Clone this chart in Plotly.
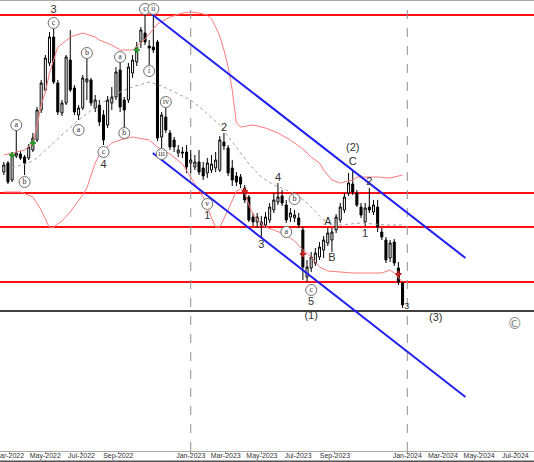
import pandas as pd
import plotly.graph_objects as go

# ---------------- data ----------------
start_week = "2022-02-20"

opens = [279, 288, 271, 295, 297, 294, 293, 301, 311, 341,
         361, 388, 414, 368, 338, 348, 391, 363, 336, 343,
         369, 371, 343, 346, 336, 326, 348, 354, 381, 351,
         351, 378, 389, 409, 418, 405, 404, 409, 314, 334,
         318, 311, 298, 299, 299, 288, 284, 289, 283, 278,
         281, 283, 281, 309, 303, 283, 275, 274, 263, 254,
         234, 229, 226, 226, 231, 241, 249, 255, 246, 234,
         233, 233, 221, 174, 183, 188, 194, 201, 208, 211,
         221, 231, 241, 258, 267, 258, 244, 229, 244, 239,
         244, 219, 211, 193, 209, 183, 168]
highs = [289, 290, 299, 321, 300, 296, 307, 318, 344, 371,
         396, 419, 424, 371, 351, 396, 421, 366, 346, 376,
         393, 373, 356, 351, 341, 355, 364, 384, 394, 354,
         388, 396, 409, 424, 438, 411, 438, 411, 339, 344,
         321, 314, 306, 304, 306, 301, 296, 301, 289, 293,
         296, 299, 315, 318, 306, 291, 279, 277, 266, 256,
         238, 238, 235, 239, 248, 258, 268, 261, 251, 243,
         241, 238, 224, 191, 199, 203, 209, 215, 223, 223,
         237, 248, 258, 278, 281, 261, 248, 248, 263, 251,
         251, 223, 214, 211, 212, 189, 170]
lows = [276, 267, 269, 293, 291, 276, 291, 299, 309, 338,
        359, 385, 367, 336, 335, 346, 359, 336, 331, 341,
        351, 345, 339, 325, 306, 323, 341, 351, 339, 323,
        348, 373, 385, 403, 406, 386, 398, 310, 301, 318,
        301, 299, 294, 293, 278, 278, 281, 276, 271, 273,
        278, 279, 279, 301, 275, 265, 265, 263, 248, 229,
        225, 223, 214, 223, 228, 238, 246, 245, 228, 229,
        229, 223, 171, 169, 179, 185, 191, 193, 205, 199,
        218, 228, 238, 255, 256, 244, 233, 225, 238, 236,
        219, 211, 188, 189, 185, 166, 143]
closes = [286, 269, 296, 298, 293, 288, 304, 313, 341, 368,
          393, 414, 369, 339, 348, 394, 361, 339, 343, 373,
          372, 348, 351, 329, 311, 351, 354, 379, 344, 341,
          384, 391, 404, 421, 409, 403, 401, 313, 336, 321,
          304, 304, 301, 298, 284, 291, 289, 279, 275, 288,
          287, 291, 311, 305, 278, 271, 269, 267, 251, 231,
          229, 234, 229, 234, 244, 251, 254, 248, 231, 238,
          236, 226, 184, 184, 194, 198, 204, 211, 218, 219,
          234, 244, 254, 268, 259, 246, 236, 243, 241, 246,
          224, 214, 191, 208, 188, 169, 146]

# Bollinger bands (week index, value)
upper_idx = [0, 2, 5, 7, 8, 9, 10, 11, 12, 13, 14, 16, 19, 22, 23, 26, 28, 31, 34, 37,
             40, 43, 45, 47, 49, 50, 51, 52, 53, 54, 55, 56, 57, 60, 63, 66, 69, 72, 74,
             76, 77, 79, 81, 84, 85, 90, 93, 96]
upper_val = [296, 298, 301, 308, 325, 346, 359, 378, 391, 404, 407, 414, 418, 414, 411, 406, 401, 401, 412, 427,
             434, 438, 439, 438, 436, 432, 424, 415, 401, 384, 361, 328, 324, 326, 323, 318, 311, 302, 294,
             288, 281, 271, 268, 271, 274, 274, 273, 276]
lower_idx = [0, 4, 7, 9, 11, 12, 14, 16, 19, 20, 22, 23, 26, 28, 31, 35, 37, 40, 43, 45,
             47, 48, 49, 50, 51, 52, 54, 55, 56, 57, 58, 59, 60, 61, 63, 65, 68, 70, 72,
             74, 76, 78, 81, 84, 91, 93, 94, 96]
lower_val = [259, 259, 254, 241, 223, 224, 230, 239, 256, 263, 288, 296, 308, 311, 314, 311, 304, 297, 287, 274,
             261, 254, 245, 233, 224, 224, 241, 251, 260, 262, 258, 246, 237, 232, 224, 221, 216, 210, 201,
             194, 184, 180, 179, 178, 178, 181, 178, 169]
mid_idx = [2, 6, 8, 11, 14, 18, 21, 23, 25, 28, 31, 35, 38, 40, 43, 45, 48, 52, 55, 57,
           59, 62, 65, 68, 71, 73, 76, 78, 81, 86, 92, 96]
mid_val = [283, 288, 293, 305, 316, 331, 341, 347, 351, 359, 364, 369, 365, 361, 355, 351, 341, 326, 309, 298,
           287, 274, 266, 261, 255, 248, 235, 228, 226, 228, 226, 226]

# band-cross markers
green_idx = [2, 7, 32]
green_val = [296, 308, 401]
red_idx = [58, 72, 95]
red_val = [260, 197, 177]

# horizontal levels
red_levels = [436, 258, 224, 169]
black_level = 140

# trend channel
chan_upper_x = ["2022-10-27", "2024-04-08"]
chan_upper_y = [437, 193]
chan_lower_x = ["2022-10-29", "2024-04-08"]
chan_lower_y = [298, 54]

# wave labels (plain)
wave_text = ["3", "4", "2", "1", "3", "4", "5", "(1)", "A", "B", "(2)", "C", "1", "2", "(3)"]
wave_idx = [12, 24, 53, 49, 62, 66, 74, 74, 78, 79, 84, 84, 87, 88, 104]
wave_val = [441, 286, 323, 235, 206, 273, 149, 135, 229, 193, 303, 289, 217, 269, 133]
small_text = ["3"]
small_idx = [97]
small_val = [144]

# circled sub-wave labels
circ_text = ["a", "b", "c", "a", "b", "c", "a", "b", "c", "ii", "i", "iii", "iv", "v", "a", "b", "c"]
circ_idx = [3, 5, 12, 18, 20, 24, 28, 29, 34, 36, 35, 38, 39, 49, 68, 70, 74]
circ_val = [326, 269, 428, 321, 398, 299, 394, 318, 442, 442, 380, 297, 349, 247, 219, 252, 161]

copyright_idx = [123]
copyright_val = [126]

tick_dates = ["2022-03-01", "2022-05-01", "2022-07-01", "2022-09-01", "2023-01-01",
              "2023-03-01", "2023-05-01", "2023-07-01", "2023-09-01", "2024-01-01",
              "2024-03-01", "2024-05-01", "2024-07-01"]
tick_text = ["Mar-2022", "May-2022", "Jul-2022", "Sep-2022", "Jan-2023",
             "Mar-2023", "May-2023", "Jul-2023", "Sep-2023", "Jan-2024",
             "Mar-2024", "May-2024", "Jul-2024"]
year_lines = ["2023-01-01", "2024-01-01"]

# ---------------- build ----------------
t0 = pd.Timestamp(start_week)


def wk(idx_list):
    return [t0 + pd.Timedelta(days=7 * i) for i in idx_list]


dates = wk(range(len(opens)))

fig = go.Figure()

fig.add_trace(go.Scatter(x=wk(upper_idx), y=upper_val, mode="lines",
                         line=dict(color="#ff7a7a", width=1), hoverinfo="skip"))
fig.add_trace(go.Scatter(x=wk(lower_idx), y=lower_val, mode="lines",
                         line=dict(color="#ff7a7a", width=1), hoverinfo="skip"))
fig.add_trace(go.Scatter(x=wk(mid_idx), y=mid_val, mode="lines",
                         line=dict(color="#a0a0a0", width=1, dash="dot"), hoverinfo="skip"))

fig.add_trace(go.Candlestick(
    x=dates, open=opens, high=highs, low=lows, close=closes,
    increasing=dict(line=dict(color="#000000", width=1), fillcolor="#ffffff"),
    decreasing=dict(line=dict(color="#000000", width=1), fillcolor="#000000"),
    whiskerwidth=0,
))

fig.add_trace(go.Scatter(x=wk(green_idx), y=green_val, mode="markers",
                         marker=dict(symbol="cross", size=5, color="#2e9a2e")))
fig.add_trace(go.Scatter(x=wk(red_idx), y=red_val, mode="markers",
                         marker=dict(symbol="cross", size=5, color="#cc2020")))

fig.add_trace(go.Scatter(x=chan_upper_x, y=chan_upper_y, mode="lines",
                         line=dict(color="#2020f0", width=2)))
fig.add_trace(go.Scatter(x=chan_lower_x, y=chan_lower_y, mode="lines",
                         line=dict(color="#2020f0", width=2)))

fig.add_trace(go.Scatter(x=wk(wave_idx), y=wave_val, mode="text", text=wave_text,
                         textposition="middle center",
                         textfont=dict(family="Liberation Sans, Arial, sans-serif", size=11, color="#333333")))
fig.add_trace(go.Scatter(x=wk(small_idx), y=small_val, mode="text", text=small_text,
                         textposition="middle center",
                         textfont=dict(family="Liberation Sans, Arial, sans-serif", size=9, color="#333333")))
fig.add_trace(go.Scatter(x=wk(circ_idx), y=circ_val, mode="markers+text", text=circ_text,
                         textposition="middle center",
                         marker=dict(symbol="circle", size=11, color="#ffffff",
                                     line=dict(color="#707070", width=1)),
                         textfont=dict(family="Liberation Serif, Times New Roman, serif", size=8, color="#333333")))
fig.add_trace(go.Scatter(x=wk(copyright_idx), y=copyright_val, mode="text", text=["©"],
                         textposition="middle center",
                         textfont=dict(family="DejaVu Sans, sans-serif", size=15, color="#8a8a8a")))

shapes = []
for lv in red_levels:
    shapes.append(dict(type="line", xref="paper", x0=0, x1=1, yref="y", y0=lv, y1=lv,
                       line=dict(color="#ff1010", width=2), layer="below"))
shapes.append(dict(type="line", xref="paper", x0=0, x1=1, yref="y", y0=black_level, y1=black_level,
                   line=dict(color="#000000", width=1.5), layer="below"))
for d in year_lines:
    shapes.append(dict(type="line", xref="x", x0=d, x1=d, yref="paper", y0=0, y1=1,
                       line=dict(color="#909090", width=1, dash="dash"), layer="below"))
shapes.append(dict(type="line", xref="paper", x0=0, x1=1, yref="paper", y0=-0.023, y1=-0.023,
                   line=dict(color="#555555", width=1.5)))

fig.update_layout(
    width=534, height=462,
    margin=dict(l=0, r=0, t=1, b=11, autoexpand=False),
    paper_bgcolor="#ffffff", plot_bgcolor="#ffffff",
    showlegend=False,
    shapes=shapes,
    xaxis=dict(type="date", range=["2022-02-13 14:00", "2024-08-01 12:00"],
               tickvals=tick_dates, ticktext=tick_text, tickangle=0, automargin=False,
               tickfont=dict(family="Liberation Sans Narrow, Arial Narrow, Liberation Sans, sans-serif",
                             size=7, color="#333333"),
               ticks="outside", ticklen=2, tickcolor="#888888", ticklabelstandoff=-4,
               ticklabeloverflow="allow",
               showgrid=False, zeroline=False, showline=True, linecolor="#aaaaaa",
               mirror=True, rangeslider=dict(visible=False)),
    yaxis=dict(range=[0, 450], showticklabels=False, showgrid=False, zeroline=False,
               showline=False, ticks="", automargin=False),
)

fig.write_html("out.html",
               config={"displayModeBar": False},
               post_script="document.body.style.margin='0';document.body.style.padding='0';")
